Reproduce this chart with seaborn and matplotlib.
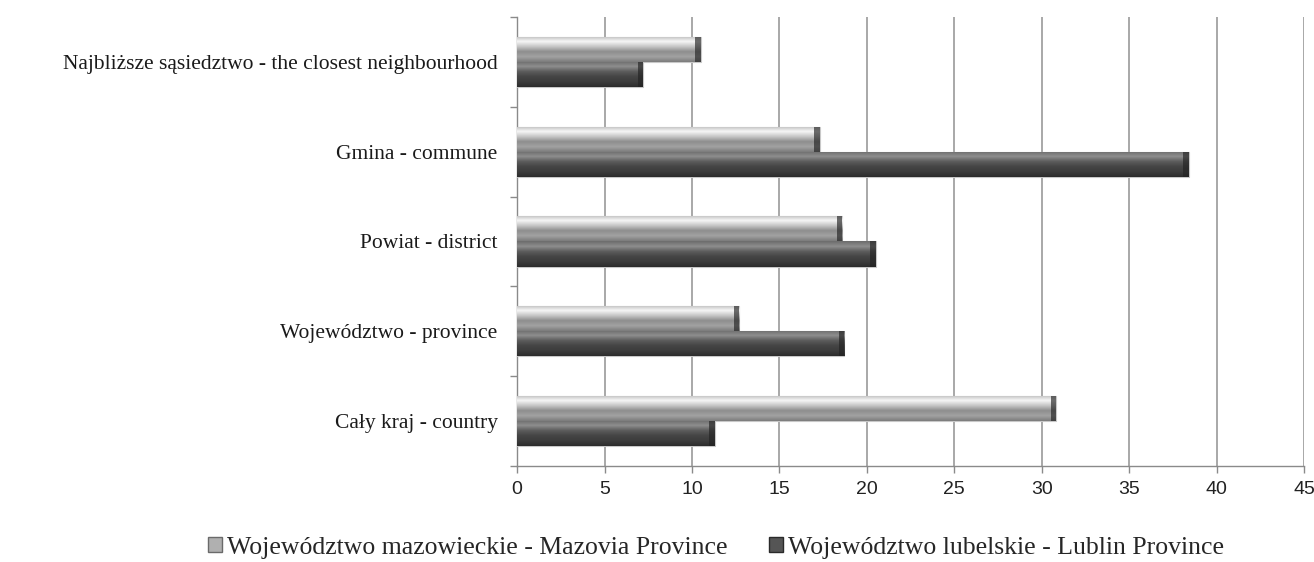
import matplotlib
matplotlib.use("Agg")
import matplotlib.pyplot as plt
import matplotlib.patches as mpatches
from matplotlib.colors import LinearSegmentedColormap
import numpy as np
import pandas as pd
import seaborn as sns

categories = [
    "Najbliższe sąsiedztwo - the closest neighbourhood",
    "Gmina - commune",
    "Powiat - district",
    "Województwo - province",
    "Cały kraj - country",
]
mazovia = [10.5, 17.3, 18.6, 12.7, 30.8]
lublin = [7.2, 38.4, 20.5, 18.7, 11.3]
series_names = [
    "Województwo mazowieckie - Mazovia Province",
    "Województwo lubelskie - Lublin Province",
]
x_ticks = [0, 5, 10, 15, 20, 25, 30, 35, 40, 45]

df = pd.DataFrame({
    "category": categories * 2,
    "value": mazovia + lublin,
    "series": [series_names[0]] * len(categories) + [series_names[1]] * len(categories),
})

sns.set_style("white")
plt.rcParams["font.family"] = ["Liberation Serif", "DejaVu Serif"]

fig = plt.figure(figsize=(13.14, 5.62), dpi=100)
ax = fig.add_axes([0.3935, 0.1708, 0.599, 0.799])

palette = {series_names[0]: "#a4a4a4", series_names[1]: "#555555"}
sns.barplot(data=df, x="value", y="category", hue="series", orient="h",
            palette=palette, width=0.56, gap=0, saturation=1,
            edgecolor="#c8c8c8", linewidth=0.8, legend=False, ax=ax, zorder=3)

# bevel-like vertical gradient inside each bar
grads = [
    LinearSegmentedColormap.from_list("light", ["#bdbdbd", "#f6f6f6", "#c6c6c6",
                                                "#8e8e8e", "#a2a2a2", "#7c7c7c"]),
    LinearSegmentedColormap.from_list("dark", ["#6c6c6c", "#8e8e8e", "#5c5c5c",
                                               "#454545", "#3c3c3c", "#2c2c2c"]),
]
ylim = ax.get_ylim()
g = np.linspace(0, 1, 64).reshape(-1, 1)
for cont, cmap in zip(ax.containers, grads):
    for patch in cont:
        bb = patch.get_bbox()
        im = ax.imshow(g, cmap=cmap, aspect="auto", origin="upper",
                       extent=(bb.x0, bb.x1, bb.y1, bb.y0), zorder=3.5)
        im.set_clip_path(patch)
        # darker end cap
        ax.add_patch(mpatches.Rectangle((bb.x1 - 0.3, bb.y0), 0.3, bb.y1 - bb.y0,
                                        facecolor="#222222", alpha=0.65,
                                        edgecolor="none", zorder=3.6))
ax.set_xlim(0, 45)
ax.set_ylim(ylim)

ax.set_xticks(x_ticks)
ax.set_xticklabels([str(t) for t in x_ticks], fontsize=14,
                   family=["Liberation Sans", "DejaVu Sans"], color="#222222")
ax.grid(axis="x", color="#9a9a9a", linewidth=1.2, zorder=0)
ax.grid(axis="y", visible=False)
ax.set_axisbelow(True)

n = len(categories)
ax.set_yticks(range(n))
ax.set_yticklabels(categories, fontsize=15.5, color="#1a1a1a")
ax.set_yticks(np.arange(-0.5, n, 1), minor=True)
ax.tick_params(axis="y", which="major", left=False, length=0, pad=14)
ax.tick_params(axis="y", which="minor", left=True, length=5, color="#8a8a8a", width=1)
ax.tick_params(axis="x", which="major", bottom=True, length=5, color="#8a8a8a",
               width=1, pad=6)

for side in ["top", "right"]:
    ax.spines[side].set_visible(False)
for side in ["left", "bottom"]:
    ax.spines[side].set_color("#8a8a8a")
    ax.spines[side].set_linewidth(1)

ax.set_xlabel("")
ax.set_ylabel("")

handles = [
    mpatches.Patch(facecolor="#b0b0b0", edgecolor="#6a6a6a", label=series_names[0]),
    mpatches.Patch(facecolor="#555555", edgecolor="#2a2a2a", label=series_names[1]),
]
fig.legend(handles=handles, loc="lower center", bbox_to_anchor=(0.545, -0.035),
           ncol=2, frameon=False, fontsize=18.5, handlelength=0.55, handleheight=0.55,
           handletextpad=0.2, columnspacing=1.6)

fig.savefig("out.png", dpi=100)
